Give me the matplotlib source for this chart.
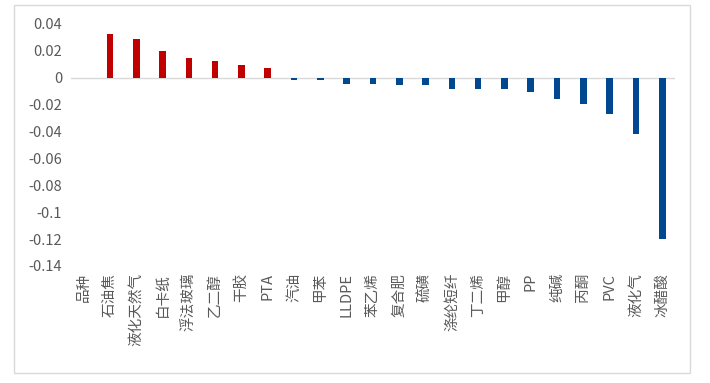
import numpy as np
import matplotlib
matplotlib.use("Agg")
import matplotlib.pyplot as plt
from matplotlib.patches import Rectangle

plt.rcParams['font.family'] = ['Noto Sans CJK SC', 'DejaVu Sans']

# data
categories = ['品种', '石油焦', '液化天然气', '白卡纸', '浮法玻璃', '乙二醇', '干胶', 'PTA',
              '汽油', '甲苯', 'LLDPE', '苯乙烯', '复合肥', '硫磺', '涤纶短纤', '丁二烯',
              '甲醇', 'PP', '纯碱', '丙酮', 'PVC', '液化气', '冰醋酸']
values = [np.nan, 0.0326, 0.0286, 0.0201, 0.0145, 0.0125, 0.0097, 0.0071,
          -0.0015, -0.0015, -0.0045, -0.0045, -0.0056, -0.0056, -0.0086, -0.0086,
          -0.0086, -0.0103, -0.0160, -0.0197, -0.0271, -0.0415, -0.1200]
yticks = [0.04, 0.02, 0, -0.02, -0.04, -0.06, -0.08, -0.1, -0.12, -0.14]
ytick_labels = ['0.04', '0.02', '0', '-0.02', '-0.04', '-0.06', '-0.08', '-0.1', '-0.12', '-0.14']

red = '#C00000'
blue = '#00488F'
grey_txt = '#595959'

fig = plt.figure(figsize=(7.10, 3.83), dpi=100)
# light frame around the whole chart
fig.patches.append(Rectangle((14 / 710, 1 - 373 / 383), 676 / 710, 368 / 383,
                             transform=fig.transFigure, fill=False,
                             edgecolor='#D9D9D9', linewidth=1))

ax = fig.add_axes([0.0993, 0.3055, 0.852, 0.6319])
x = np.arange(len(categories))
colors = [red if (v == v and v > 0) else blue for v in values]
ax.bar(x, values, width=0.25, color=colors, zorder=3)

ax.axhline(0, color='#D9D9D9', linewidth=1, zorder=2)
ax.set_xlim(-0.5, len(categories) - 0.5)
ax.set_ylim(-0.14, 0.04)
ax.set_yticks(yticks)
ax.set_yticklabels(ytick_labels)
ax.set_xticks(x)
ax.set_xticklabels(categories, rotation=90)

for s in ax.spines.values():
    s.set_visible(False)
ax.tick_params(axis='both', length=0, colors=grey_txt, labelsize=10.5)
ax.tick_params(axis='x', pad=5)
ax.tick_params(axis='y', pad=6)

fig.savefig('out.png', dpi=100)
